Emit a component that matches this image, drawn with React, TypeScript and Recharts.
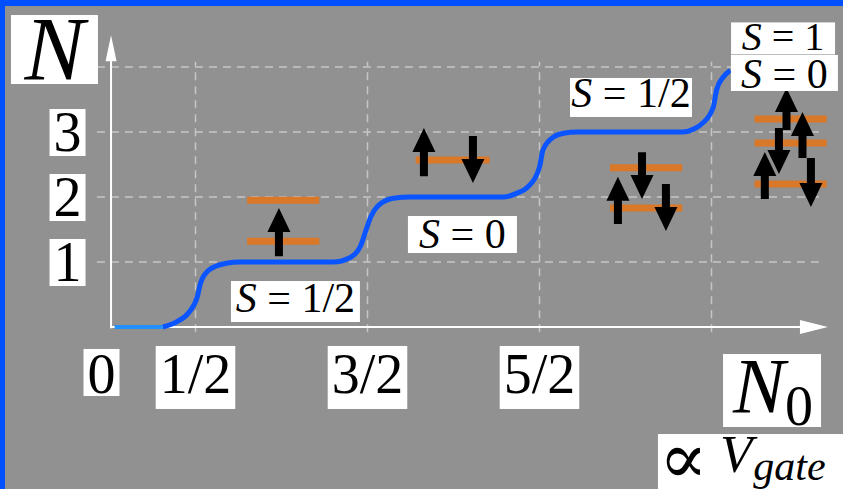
import React, { useLayoutEffect, useRef, useState } from "react";
import { LineChart, Line, XAxis, YAxis, ReferenceLine, ReferenceDot } from "recharts";

const W = 843;
const H = 489;
// pixel position of N0 = 0 / N = 0 and the size of one unit on each axis
const X0 = 109.5;
const XU = 172;
const Y0 = 327;
const YU = 65;
const X_DOMAIN = [-X0 / XU, (W - X0) / XU];
const Y_DOMAIN = [(Y0 - H) / YU, Y0 / YU];

const BG = "#919191";
const BORDER = "#0050ff";
const BLUE = "#0a55ff";
const LIGHT_BLUE = "#2090ff";
const ORANGE = "#d97828";
const GRID = "#c6c6c6";
const FONT = '"Liberation Serif", "DejaVu Serif", serif';

// Coulomb staircase N(N0)
const stepN0 = [
  0.31, 0.39, 0.46, 0.51, 0.53, 0.58, 0.68, 0.76,
  1.3, 1.4, 1.46, 1.49, 1.52, 1.56, 1.65, 1.75,
  2.29, 2.37, 2.43, 2.5, 2.52, 2.58, 2.64, 2.72,
  3.33, 3.4, 3.45, 3.51, 3.53, 3.57, 3.61,
];
const stepN = [
  0, 0.08, 0.22, 0.46, 0.68, 0.88, 0.98, 1,
  1, 1.07, 1.25, 1.48, 1.7, 1.86, 1.98, 2,
  2, 2.06, 2.15, 2.46, 2.72, 2.92, 2.98, 3,
  3, 3.05, 3.14, 3.38, 3.65, 3.85, 3.95,
];
// short flat piece at the origin
const flatN0 = [0.03, 0.31];
const flatN = [0, 0];

const gridN = [1, 2, 3, 4];
const gridN0 = [0.5, 1.5, 2.5, 3.5];

const xTicks = [0, 0.5, 1.5, 2.5];
const xTickLabels = ["0", "1/2", "3/2", "5/2"];
const yTicks = [1, 2, 3];

// single-particle levels: [from N0, to N0] at height N
const levelFrom = [0.8, 0.8, 1.78, 2.91, 2.91, 3.75, 3.75, 3.75];
const levelTo = [1.22, 1.22, 2.21, 3.33, 3.33, 4.17, 4.17, 4.17];
const levelN = [1.95, 1.32, 2.57, 2.45, 1.83, 3.2, 2.83, 2.2];

// spin arrows: tail -> tip
const spinN0 = [0.985, 1.828, 2.113, 2.956, 3.096, 3.235, 3.936, 3.892, 4.029, 4.078, 3.81];
const spinTail = [1.09, 2.32, 2.94, 1.585, 2.69, 2.2, 3.03, 3.06, 2.6, 2.6, 1.97];
const spinTip = [1.83, 3.06, 2.215, 2.31, 1.97, 1.477, 3.677, 2.354, 3.308, 1.846, 2.692];

const spinTotals = ["1/2", "0", "1/2", "1", "0"];

const staircase = stepN0.map((n0, i) => ({ n0, n: stepN[i] }));

function arrowShape(shaft: number, head: number, len: number, color: string) {
  return (p: any) => {
    const { x1, y1, x2, y2 } = p;
    const dx = x2 - x1;
    const dy = y2 - y1;
    const l = Math.hypot(dx, dy) || 1;
    const ux = dx / l;
    const uy = dy / l;
    const nx = -uy;
    const ny = ux;
    const bx = x2 - ux * len;
    const by = y2 - uy * len;
    const pts = [
      [x1 + nx * shaft, y1 + ny * shaft],
      [bx + nx * shaft, by + ny * shaft],
      [bx + nx * head, by + ny * head],
      [x2, y2],
      [bx - nx * head, by - ny * head],
      [bx - nx * shaft, by - ny * shaft],
      [x1 - nx * shaft, y1 - ny * shaft],
    ];
    return <polygon points={pts.map((q) => q.join(",")).join(" ")} fill={color} />;
  };
}

// white box sized to the text it holds
function BoxedText({ cx, baseline, text, size, above, below, pad = 4 }: any) {
  const ref = useRef<SVGTextElement>(null);
  const [w, setW] = useState(size * 0.5 * text.length);
  useLayoutEffect(() => {
    if (ref.current) setW(ref.current.getComputedTextLength());
  }, [text, size]);
  return (
    <g>
      <rect x={cx - w / 2 - pad} y={baseline - above} width={w + 2 * pad} height={above + below} fill="#fff" />
      <text ref={ref} x={cx} y={baseline} textAnchor="middle" fontFamily={FONT} fontSize={size} fill="#000">
        {text}
      </text>
    </g>
  );
}

function xTickShape(label: string, shift: number) {
  const frac = label.length > 1;
  return (p: any) => (
    <BoxedText
      cx={p.cx + shift}
      baseline={p.cy}
      text={label}
      size={56}
      above={frac ? 47 : 44}
      below={frac ? 16 : 3}
    />
  );
}

function yTickShape(label: string) {
  return (p: any) => <BoxedText cx={p.cx} baseline={p.cy + 19} text={label} size={56} above={42} below={5} />;
}

function spinLabel(value: string, w: number, h: number, base: number, size = 42) {
  return (p: any) => (
    <g>
      <rect x={p.cx - w / 2} y={p.cy - h / 2} width={w} height={h} fill="#fff" />
      <text x={p.cx} y={p.cy + base} textAnchor="middle" fontFamily={FONT} fontSize={size} fill="#000">
        <tspan fontStyle="italic">S</tspan> = {value}
      </text>
    </g>
  );
}

const axisArrowY = arrowShape(1, 5.5, 26, "#fff");
const axisArrowX = arrowShape(1, 7, 28, "#fff");
const spinArrow = arrowShape(4, 11.5, 24, "#000");

// tick labels sit below / left of the axes
const X_LABEL_N = -1.015;
const Y_LABEL_N0 = -0.244;

export default function App() {
  return (
    <div
      style={{
        position: "absolute",
        left: 0,
        top: 0,
        width: W,
        height: H,
        background: BG,
        boxShadow: `inset 5px 6px 0 0 ${BORDER}`,
        overflow: "hidden",
      }}
    >
      <LineChart width={W} height={H} data={staircase} margin={{ top: 0, right: 0, bottom: 0, left: 0 }}>
        <XAxis type="number" dataKey="n0" domain={X_DOMAIN} allowDataOverflow hide />
        <YAxis type="number" domain={Y_DOMAIN} allowDataOverflow hide />

        {gridN.map((n) => (
          <ReferenceLine
            key={`gh${n}`}
            segment={[{ x: -0.073, y: n }, { x: 4.14, y: n }]}
            stroke={GRID}
            strokeWidth={1.5}
            strokeDasharray="8 6"
            zIndex={-100}
          />
        ))}
        {gridN0.map((n0) => (
          <ReferenceLine
            key={`gv${n0}`}
            segment={[{ x: n0, y: -0.08 }, { x: n0, y: 4.08 }]}
            stroke={GRID}
            strokeWidth={1.5}
            strokeDasharray="8 6"
            zIndex={-100}
          />
        ))}

        {/* axes with arrow heads */}
        <ReferenceLine segment={[{ x: 0.009, y: -0.02 }, { x: 0.009, y: 4.49 }]} shape={axisArrowY} zIndex={300} />
        <ReferenceLine segment={[{ x: 0.009, y: 0 }, { x: 4.177, y: 0 }]} shape={axisArrowX} zIndex={300} />

        {levelN.map((n, i) => (
          <ReferenceLine
            key={`lv${i}`}
            segment={[{ x: levelFrom[i], y: n }, { x: levelTo[i], y: n }]}
            stroke={ORANGE}
            strokeWidth={7}
            zIndex={350}
          />
        ))}

        <ReferenceLine
          segment={[{ x: flatN0[0], y: flatN[0] }, { x: flatN0[1], y: flatN[1] }]}
          stroke={LIGHT_BLUE}
          strokeWidth={4}
          zIndex={380}
        />
        <Line
          dataKey="n"
          type="monotone"
          stroke={BLUE}
          strokeWidth={5}
          dot={false}
          activeDot={false}
          isAnimationActive={false}
          zIndex={400}
        />

        {spinN0.map((n0, i) => (
          <ReferenceLine
            key={`sp${i}`}
            segment={[{ x: n0, y: spinTail[i] }, { x: n0, y: spinTip[i] }]}
            shape={spinArrow}
            zIndex={500}
          />
        ))}

        {/* tick labels */}
        {xTicks.map((v, i) => (
          <ReferenceDot
            key={`xt${v}`}
            x={v}
            y={X_LABEL_N}
            r={0}
            zIndex={2000}
            shape={xTickShape(xTickLabels[i], v === 0 ? -8 : 0)}
          />
        ))}
        {yTicks.map((v) => (
          <ReferenceDot key={`yt${v}`} x={Y_LABEL_N0} y={v} r={0} zIndex={2000} shape={yTickShape(String(v))} />
        ))}

        {/* total spin of each ground state */}
        <ReferenceDot x={1.081} y={0.392} r={0} shape={spinLabel(spinTotals[0], 129, 41, 10.5)} zIndex={2000} />
        <ReferenceDot x={2.052} y={1.423} r={0} shape={spinLabel(spinTotals[1], 109, 37, 13.5)} zIndex={2000} />
        <ReferenceDot x={3.032} y={3.531} r={0} shape={spinLabel(spinTotals[2], 122, 39, 9.5)} zIndex={2000} />
        <ReferenceDot x={3.916} y={4.44} r={0} shape={spinLabel(spinTotals[3], 104, 32, 12, 40)} zIndex={2000} />
        <ReferenceDot x={3.924} y={3.908} r={0} shape={spinLabel(spinTotals[4], 107, 36, 15)} zIndex={2000} />

        {/* axis titles */}
        <ReferenceDot
          x={-0.32}
          y={4.269}
          r={0}
          zIndex={2000}
          shape={(p: any) => (
            <g>
              <rect x={p.cx - 43.5} y={p.cy - 34.5} width={87} height={69} fill="#fff" />
              <text x={p.cx} y={p.cy + 30.5} textAnchor="middle" fontFamily={FONT} fontSize={90} fontStyle="italic" fill="#000">
                N
              </text>
            </g>
          )}
        />
        <ReferenceDot
          x={3.852}
          y={-0.977}
          r={0}
          zIndex={2000}
          shape={(p: any) => (
            <g>
              <rect x={p.cx - 49} y={p.cy - 36.5} width={98} height={73} fill="#fff" />
              <text x={p.cx + 1} y={p.cy + 21.5} textAnchor="middle" fontFamily={FONT} fill="#000">
                <tspan fontSize={78} fontStyle="italic">N</tspan>
                <tspan fontSize={56} dy={13}>0</tspan>
              </text>
            </g>
          )}
        />
        <ReferenceDot
          x={3.741}
          y={-2.108}
          r={0}
          zIndex={2000}
          shape={(p: any) => (
            <g>
              <rect x={p.cx - 95} y={p.cy - 30} width={190} height={60} fill="#fff" />
              <text x={p.cx - 94} y={p.cy + 19} fontFamily={FONT} fontSize={72} fill="#000">
                ∝
              </text>
              <text x={p.cx - 33} y={p.cy + 8} fontFamily={FONT} fill="#000">
                <tspan fontSize={53} fontStyle="italic">V</tspan>
                <tspan fontSize={42} fontStyle="italic" dy={8} dx={1}>gate</tspan>
              </text>
            </g>
          )}
        />
      </LineChart>
    </div>
  );
}
